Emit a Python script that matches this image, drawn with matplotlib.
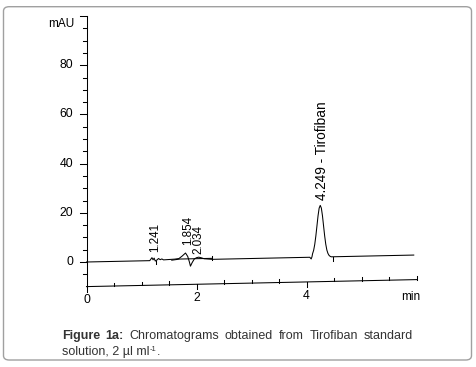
import numpy as np
import matplotlib
matplotlib.use("Agg")
import matplotlib.pyplot as plt
from matplotlib import font_manager
from matplotlib.transforms import Affine2D
from matplotlib.patches import FancyBboxPatch

# ---------------- data ----------------
# chromatogram trace, time (min) vs absorbance (mAU) relative to drifting baseline
trace_time = [0.00, 1.15, 1.19, 1.21, 1.23, 1.25, 1.28, 1.31, 1.34, 1.37, 1.40,
              1.60, 1.68, 1.74, 1.80, 1.84, 1.87, 1.89, 1.92, 1.96, 2.00, 2.04,
              2.09, 2.14, 2.28, 4.06, 4.085, 4.10, 4.11, 4.13, 4.15, 4.17, 4.19,
              4.21, 4.23, 4.25, 4.27, 4.29, 4.31, 4.33, 4.35, 4.37, 4.39, 4.41,
              4.43, 4.45, 5.95]
trace_mau = [0.0, 0.0, 1.2, 0.3, 1.0, -0.2, 0.2, 0.8, 0.3, 0.6, 0.2,
             0.4, 0.6, 1.6, 2.8, 1.4, -0.8, -2.6, -1.2, 0.3, 0.8, 1.0,
             0.7, 0.3, 0.0, 0.0, -0.7, 0.2, 1.4, 2.8, 5.2, 8.6, 12.7,
             16.8, 19.9, 21.0, 19.9, 16.8, 12.7, 8.6, 5.2, 2.8, 1.4, 0.6,
             0.2, 0.0, 0.0]
# second (overlaid) chromatogram segment
seg_time = [1.55, 1.70, 2.28]
seg_mau = [0.0, 0.4, 0.4]
# peak retention-time markers below the trace
marker_time = [1.27, 4.48]
# peak labels
peak_labels = ["1.241", "1.854", "2.034", "4.249 - Tirofiban"]
label_x = [1.245, 1.84, 2.03, 4.276]
label_base = [3.5, 6.0, 2.3, 23.2]
# axes ticks
y_major = [0, 20, 40, 60, 80]
y_minor = [-5, 5, 10, 15, 25, 30, 35, 45, 50, 55, 65, 70, 75, 85, 90, 95]
x_major = [0, 2, 4]
x_minor = [0.5, 1.0, 1.5, 2.5, 3.0, 3.5, 4.5, 5.0, 5.5, 6.0]
x_end = 6.0
y_bottom, y_top = -10, 100
drift = 0.474   # mAU per min slant of the plot
caption_bold = ["Figure", "1a:"]
caption_words = ["Chromatograms", "obtained", "from", "Tirofiban", "standard"]
caption_line2 = ["solution, 2 µl ml", "-1", "."]

# ---------------- fonts ----------------
names = {f.name for f in font_manager.fontManager.ttflist}
narrow = "Liberation Sans Narrow" if "Liberation Sans Narrow" in names else "Liberation Sans"
reg = "Liberation Sans"

W, H = 477, 367
fig = plt.figure(figsize=(W / 100, H / 100), dpi=100)
ax = fig.add_axes([0, 0, 1, 1])
ax.axis("off")
x0px, xs = 86.5, 55.0
y0px, ys = 262.0, 2.46
ax.set_xlim(-x0px / xs, (W - x0px) / xs)
ax.set_ylim((y0px - H) / ys, y0px / ys)

T = Affine2D(np.array([[1, 0, 0], [drift, 1, 0], [0, 0, 1]])) + ax.transData
lw = 0.75

# y axis
ax.plot([0, 0], [y_bottom, y_top], color="black", lw=lw, transform=T)
maj_len = 7 / xs
min_len = 3.5 / xs
for v in y_major + [y_top]:
    ax.plot([-maj_len, 0], [v, v], color="black", lw=lw)
for v in y_minor:
    ax.plot([-min_len, 0], [v, v], color="black", lw=lw)
for v in y_major:
    ax.text(-0.245, v, str(v), ha="right", va="center", fontsize=8.8, family=narrow)
ax.text(-0.227, 96.7, "mAU", ha="right", va="center", fontsize=8.5, family=narrow)

# slanted x axis
ax.plot([0, x_end], [y_bottom, y_bottom], color="black", lw=lw, transform=T)
for v in x_major:
    ax.plot([v, v], [y_bottom, y_bottom - 5 / ys], color="black", lw=lw, transform=T)
for v in x_minor:
    ax.plot([v, v], [y_bottom, y_bottom + 3.5 / ys], color="black", lw=lw, transform=T)
for v in x_major:
    ax.text(v, y_bottom - 5.6, str(v), ha="center", va="center", fontsize=8.8,
            family=narrow, transform=T)
ax.text(5.89, -16.9, "min", ha="center", va="center", fontsize=8.5, family=reg,
        transform=T)

# traces
ax.plot(trace_time, trace_mau, color="black", lw=lw, transform=T)
ax.plot(seg_time, seg_mau, color="black", lw=lw, transform=T)
ax.plot([seg_time[-1]] * 2, [seg_mau[-1] + 0.8, seg_mau[-1] - 0.8], color="black", lw=lw, transform=T)
for t in marker_time:
    ax.plot([t, t], [0, -1.6], color="black", lw=lw, transform=T)

# peak labels
for lab, lx, lb in zip(peak_labels, label_x, label_base):
    fs = 9.8 if "Tirofiban" in lab else 8.4
    ax.text(lx, lb, lab, rotation=90, ha="center", va="bottom", fontsize=fs,
            family=reg, transform=T)

# caption (justified first line)
cap_color = "#333333"
fs_cap = 9.0
fig.canvas.draw()
r = fig.canvas.get_renderer()
words = [(w, "bold") for w in caption_bold] + [(w, "normal") for w in caption_words]
txts = []
for w, wt in words:
    t = fig.text(0, 0, w, fontsize=fs_cap, fontweight=wt, family=reg, color=cap_color)
    txts.append(t)
widths = [t.get_window_extent(r).width for t in txts]
left, right = 61.7, 412.7
gap = (right - left - sum(widths)) / (len(words) - 1)
x = left
base1 = 338.7
for t, wd in zip(txts, widths):
    t.set_position((x / W, 1 - base1 / H))
    t.set_va("baseline")
    x += wd + gap

base2 = 355.3
t2 = fig.text(left / W, 1 - base2 / H, caption_line2[0], fontsize=fs_cap, family=reg,
              color=cap_color, va="baseline")
w2 = t2.get_window_extent(r).width
t3 = fig.text((left + w2 + 0.5) / W, 1 - (base2 - 4.5) / H, caption_line2[1], fontsize=5.5,
              family=reg, color=cap_color, va="baseline")
w3 = t3.get_window_extent(r).width
fig.text((left + w2 + w3 + 0.8) / W, 1 - base2 / H, caption_line2[2], fontsize=fs_cap,
         family=reg, color=cap_color, va="baseline")

# rounded border
box = FancyBboxPatch((3.5 / W, 1 - 360 / H), (471.5 - 3.5) / W, (360 - 6.7) / H,
                     boxstyle="round,pad=0,rounding_size=0.012", transform=fig.transFigure,
                     fill=False, edgecolor="#a0a0a0", lw=1.0)
fig.patches.append(box)

fig.savefig("out.png", dpi=100)
